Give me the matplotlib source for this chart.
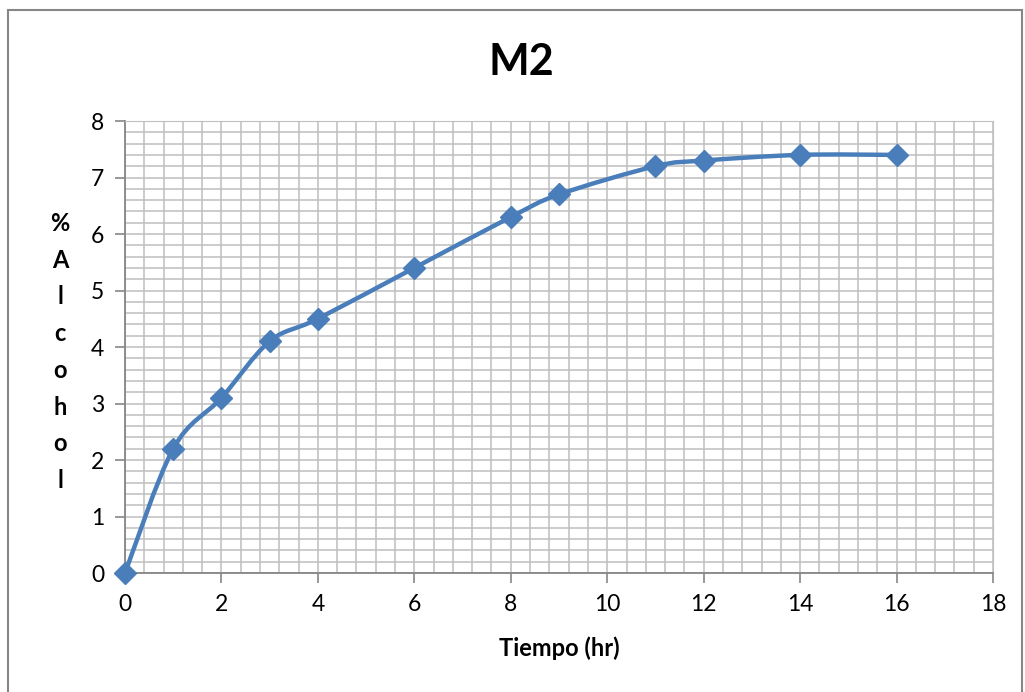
import numpy as np
import matplotlib.pyplot as plt
from matplotlib.path import Path
from matplotlib.patches import PathPatch, Rectangle
from matplotlib.ticker import MultipleLocator

# datos
tiempo = [0, 1, 2, 3, 4, 6, 8, 9, 11, 12, 14, 16]
alcohol = [0, 2.2, 3.1, 4.1, 4.5, 5.4, 6.3, 6.7, 7.2, 7.3, 7.4, 7.4]
titulo = "M2"
x_label = "Tiempo (hr)"
y_label = "%Alcohol"

AZUL = '#4a7ebb'
GRIS = '#bfbfbf'
plt.rcParams['font.family'] = ['Lato', 'DejaVu Sans']

fig = plt.figure(figsize=(10.25, 6.92), dpi=100)
ax = fig.add_axes([125/1025, 1 - 573/692, (993-125)/1025, (573-121)/692])

# curva suavizada tipo Excel (Bezier por Catmull-Rom)
pts = np.column_stack([tiempo, alcohol]).astype(float)
verts = [pts[0]]
codes = [Path.MOVETO]
n = len(pts)
for i in range(n - 1):
    p0 = pts[max(i - 1, 0)]
    p1 = pts[i]
    p2 = pts[i + 1]
    p3 = pts[min(i + 2, n - 1)]
    c1 = p1 + (p2 - p0) / 6
    c2 = p2 - (p3 - p1) / 6
    verts += [c1, c2, p2]
    codes += [Path.CURVE4] * 3
ax.add_patch(PathPatch(Path(verts, codes), fill=False, edgecolor=AZUL, lw=3.2,
                       capstyle='round', joinstyle='round', zorder=3, clip_on=False))
ax.plot(tiempo, alcohol, ls='none', marker='D', ms=11, color=AZUL, zorder=4,
        clip_on=False)

ax.set_xlim(0, 18)
ax.set_ylim(0, 8)
ax.xaxis.set_major_locator(MultipleLocator(2))
ax.xaxis.set_minor_locator(MultipleLocator(0.4))
ax.yaxis.set_major_locator(MultipleLocator(1))
ax.yaxis.set_minor_locator(MultipleLocator(0.2))
ax.grid(True, which='both', color=GRIS, lw=1.1)
ax.set_axisbelow(True)
ax.tick_params(which='minor', length=0)
ax.tick_params(which='major', length=7, width=1.2, color='#868686',
               labelsize=16.5, pad=8)
for s in ['top', 'right']:
    ax.spines[s].set_color(GRIS)
for s in ['left', 'bottom']:
    ax.spines[s].set_color('#868686')
    ax.spines[s].set_linewidth(1.3)

fig.text(521/1025, 1 - 62/692, titulo, ha='center', va='center',
         fontsize=31, fontweight='bold')
fig.text(559/1025, 1 - 648/692, x_label, ha='center', va='center',
         fontsize=17, fontweight='bold')
fig.text(60/1025, 1 - 352/692, "\n".join(y_label), ha='center', va='center',
         fontsize=17, fontweight='bold', linespacing=1.72)

# borde exterior del grafico
fig.patches.append(Rectangle((8/1025, -0.05), (1022-8)/1025, 1.05 - 10/692,
                             transform=fig.transFigure, fill=False,
                             edgecolor='#868686', lw=1.5))

fig.savefig('out.png', dpi=100)
